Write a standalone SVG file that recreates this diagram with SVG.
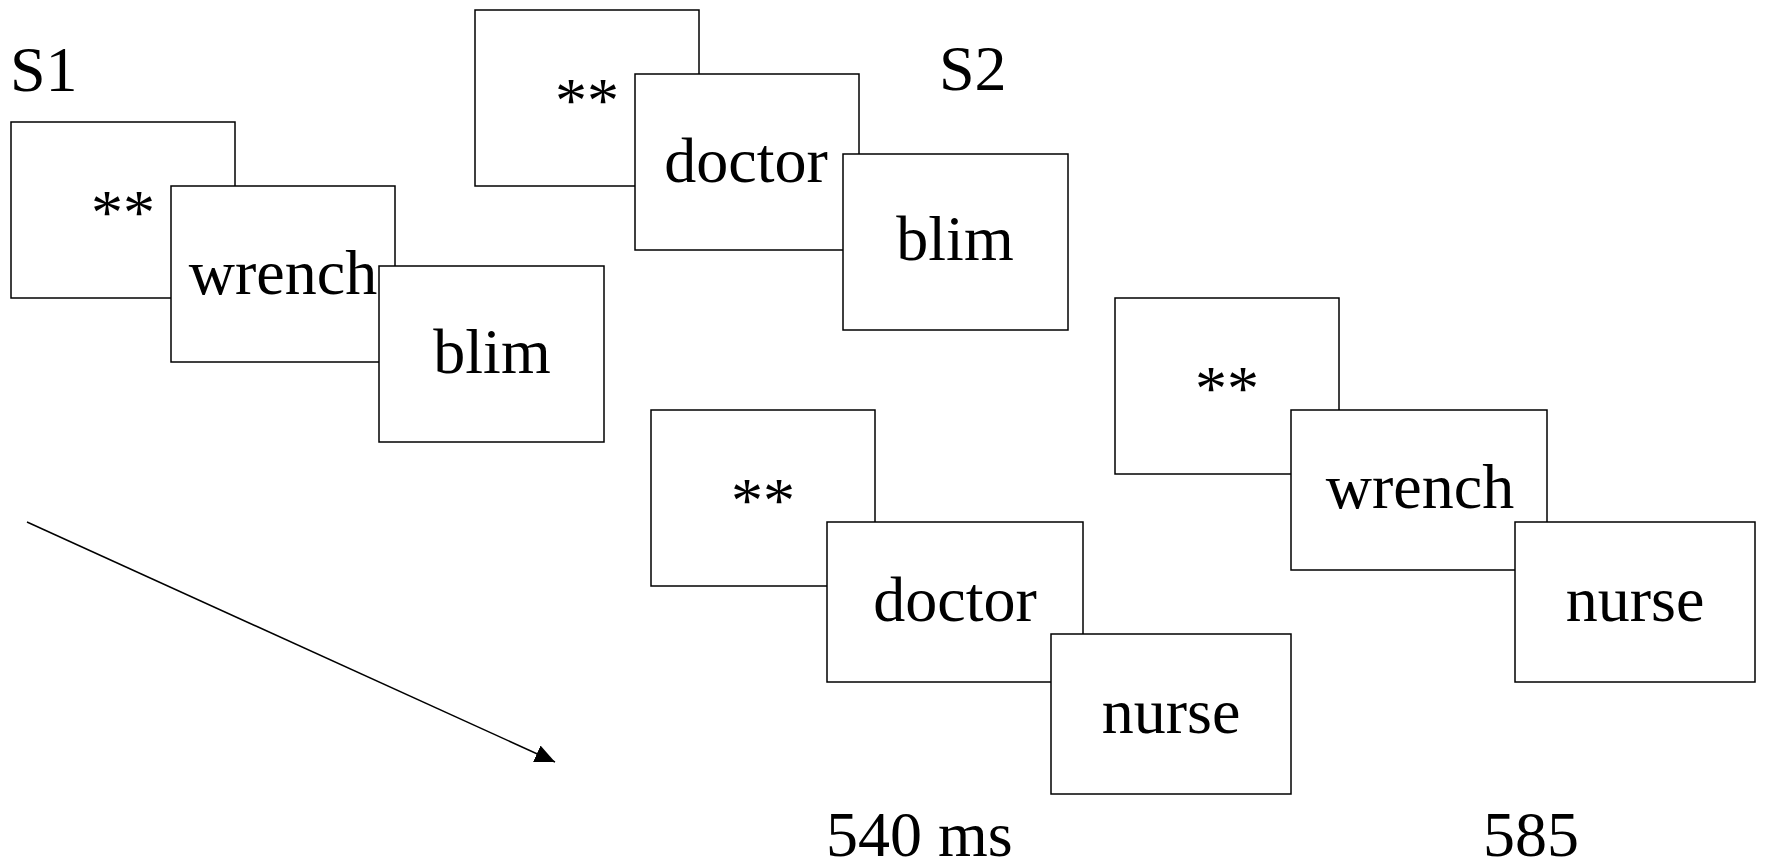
<svg xmlns="http://www.w3.org/2000/svg" width="1766" height="864" viewBox="0 0 1766 864">
<style>
  .box { fill: #fff; stroke: #000; stroke-width: 1.5; }
  .t { font-family: "Liberation Serif", "Times New Roman", serif; font-size: 64px; fill: #000; }
  .c { text-anchor: middle; }
</style>
<defs>
  <marker id="ah" markerUnits="userSpaceOnUse" markerWidth="20" markerHeight="18" viewBox="0 0 20 18" refX="20" refY="9" orient="auto">
    <path d="M0,0 L20,9 L0,18 Z" fill="#000"/>
  </marker>
</defs>
<rect width="1766" height="864" fill="#fff"/>

<text class="t" x="10" y="91">S1</text>
<text class="t" x="939" y="90">S2</text>

<g id="s1-fix"><rect class="box" x="11" y="122" width="224" height="176"/><text class="t c" x="123" y="234">**</text></g>
<g id="s1-prime"><rect class="box" x="171" y="186" width="224" height="176"/><text class="t c" x="283" y="294">wrench</text></g>
<g id="s1-target"><rect class="box" x="379" y="266" width="225" height="176"/><text class="t c" x="492" y="373">blim</text></g>

<g id="s2-fix"><rect class="box" x="475" y="10" width="224" height="176"/><text class="t c" x="587" y="122">**</text></g>
<g id="s2-prime"><rect class="box" x="635" y="74" width="224" height="176"/><text class="t c" x="746" y="182">doctor</text></g>
<g id="s2-target"><rect class="box" x="843" y="154" width="225" height="176"/><text class="t c" x="955" y="260">blim</text></g>

<g id="s3-fix"><rect class="box" x="651" y="410" width="224" height="176"/><text class="t c" x="763" y="522">**</text></g>
<g id="s3-prime"><rect class="box" x="827" y="522" width="256" height="160"/><text class="t c" x="955" y="621">doctor</text></g>
<g id="s3-target"><rect class="box" x="1051" y="634" width="240" height="160"/><text class="t c" x="1171" y="733">nurse</text></g>

<g id="s4-fix"><rect class="box" x="1115" y="298" width="224" height="176"/><text class="t c" x="1227" y="410">**</text></g>
<g id="s4-prime"><rect class="box" x="1291" y="410" width="256" height="160"/><text class="t c" x="1420" y="508">wrench</text></g>
<g id="s4-target"><rect class="box" x="1515" y="522" width="240" height="160"/><text class="t c" x="1635" y="621">nurse</text></g>

<text class="t" x="826" y="856">540 ms</text>
<text class="t" x="1483" y="856">585</text>

<g id="connectors">
  <line x1="27" y1="522" x2="555" y2="762" stroke="#000" stroke-width="1.5" marker-end="url(#ah)"/>
</g>
</svg>
